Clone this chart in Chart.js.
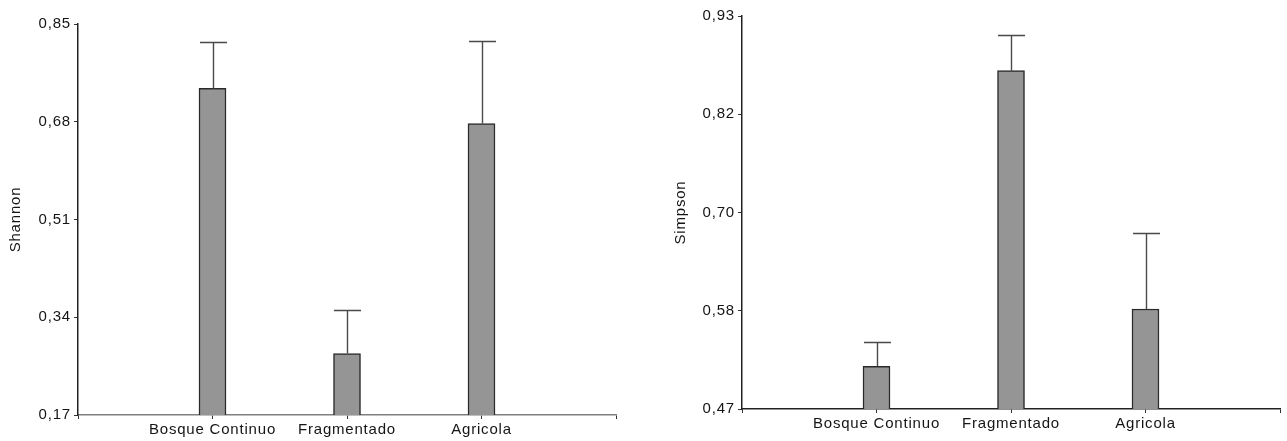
<!DOCTYPE html>
<html lang="es">
<head>
  <meta charset="UTF-8">
  <title>Shannon / Simpson</title>
  <script src="https://cdn.jsdelivr.net/npm/chart.js"></script>
  <style>
    body {
      margin: 0;
      background: #fff;
      width: 1287px;
      height: 441px;
      position: relative;
      overflow: hidden;
    }
    .box {
      position: absolute;
      top: 0;
    }
  </style>
</head>
<body>

  <div class="box" style="left:0"><canvas id="shannonChart" width="640" height="441"></canvas></div>
  <div class="box" style="left:660px"><canvas id="simpsonChart" width="627" height="441"></canvas></div>

  <script>
    const categories = ["Bosque Continuo", "Fragmentado", "Agricola"];

    // Shannon: media y limite superior del error
    const shannon = [0.738, 0.277, 0.677];
    const shannonErr = [0.818, 0.353, 0.820];
    const shannonTicks = [0.17, 0.34, 0.51, 0.68, 0.85];
    const shannonTickLabels = ["0,17", "0,34", "0,51", "0,68", "0,85"];

    // Simpson
    const simpson = [0.520, 0.866, 0.587];
    const simpsonErr = [0.548, 0.908, 0.676];
    const simpsonTicks = [0.47, 0.585, 0.70, 0.815, 0.93];
    const simpsonTickLabels = ["0,47", "0,58", "0,70", "0,82", "0,93"];

    Chart.defaults.font.family = '"Liberation Sans", Arial, sans-serif';
    Chart.defaults.font.size = 15;
    Chart.defaults.color = "#151515";

    // espacio entre letras, el original se ve estirado
    const spacing = {
      id: "spacing",
      beforeDraw(chart) { chart.ctx.letterSpacing = "0.8px"; }
    };

    // barras de error dibujadas con las escalas del grafico
    const errorBars = {
      id: "errorBars",
      afterDatasetsDraw(chart, args, opts) {
        const ctx = chart.ctx;
        const xs = chart.scales.x, ys = chart.scales.y;
        const vals = opts.values, tops = opts.tops;
        ctx.save();
        ctx.strokeStyle = "#4a4a4a";
        ctx.lineWidth = 1.4;
        vals.forEach((v, i) => {
          const x = Math.round(xs.getPixelForValue(i + 1)) + 0.5;
          const y0 = ys.getPixelForValue(v);
          const y1 = Math.round(ys.getPixelForValue(tops[i])) + 0.5;
          ctx.beginPath();
          ctx.moveTo(x, y0);
          ctx.lineTo(x, y1);
          ctx.moveTo(x - 13.5, y1);
          ctx.lineTo(x + 13.5, y1);
          ctx.stroke();
        });
        ctx.restore();
      }
    };

    function makeChart(id, title, values, tops, ticks, tickLabels, o) {
      return new Chart(document.getElementById(id), {
        type: "bar",
        data: {
          labels: ["", ...categories, ""],
          datasets: [{
            data: [null, ...values, null],
            backgroundColor: "#959595",
            borderColor: "#2a2a2a",
            borderWidth: 1.5,
            barThickness: 27
          }]
        },
        plugins: [spacing, errorBars],
        options: {
          responsive: false,
          animation: false,
          events: [],
          layout: { padding: { top: o.top, right: o.right, left: 0, bottom: 0 } },
          plugins: {
            legend: { display: false },
            tooltip: { enabled: false },
            errorBars: { values, tops }
          },
          scales: {
            x: {
              offset: false,
              grid: { offset: false, drawOnChartArea: false, drawTicks: true, tickLength: 4, color: "#333" },
              border: { display: true, color: o.xAxisColor, width: 1.5 },
              ticks: { padding: 2, maxRotation: 0, autoSkip: false },
              afterFit: s => { s.height = o.xHeight; }
            },
            y: {
              min: ticks[0],
              max: ticks[ticks.length - 1],
              afterBuildTicks: s => { s.ticks = ticks.map(v => ({ value: v })); },
              grid: { drawOnChartArea: false, drawTicks: true, tickLength: 4, color: "#333" },
              border: { display: true, color: "#222", width: 1.5 },
              ticks: {
                padding: 3,
                callback: (v, i) => tickLabels[i]
              },
              title: {
                display: true,
                text: title,
                font: { size: 15 },
                padding: { top: o.titlePad, bottom: 0 }
              },
              afterFit: s => { s.width = o.yWidth; }
            }
          }
        }
      });
    }

    makeChart("shannonChart", "Shannon", shannon, shannonErr, shannonTicks, shannonTickLabels,
      { top: 24, right: 24, xHeight: 26, yWidth: 78, titlePad: 6.5, xAxisColor: "#808080" });

    makeChart("simpsonChart", "Simpson", simpson, simpsonErr, simpsonTicks, simpsonTickLabels,
      { top: 16, right: 7, xHeight: 32, yWidth: 82, titlePad: 12, xAxisColor: "#222" });
  </script>

</body>
</html>
